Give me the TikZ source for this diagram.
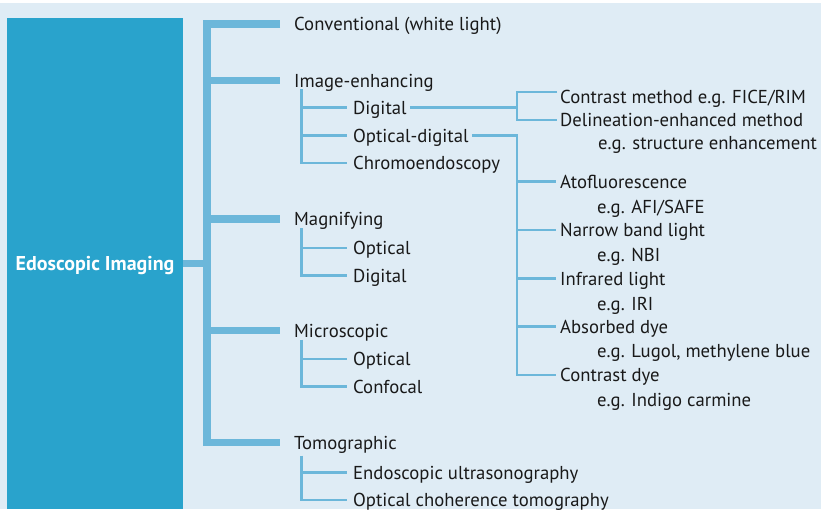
\documentclass[tikz,border=0pt]{standalone}
\usepackage{fontspec}
\setmainfont{PT Sans}
\definecolor{bgblue}{RGB}{223,236,245}
\definecolor{boxblue}{RGB}{41,163,204}
\definecolor{lineblue}{RGB}{108,183,218}
\definecolor{txt}{RGB}{25,25,25}
\begin{document}
\begin{tikzpicture}[x=1pt,y=-1pt,
  lbl/.style={anchor=west,inner sep=0pt,text height=13pt,text depth=0pt,
    font=\fontsize{18.7}{20}\selectfont,text=txt},
  thickln/.style={draw=lineblue,line width=7.5pt,line join=miter},
  thinln/.style={draw=lineblue,line width=2.8pt,line join=miter},
]
\useasboundingbox (0,0) rectangle (821,509);
\fill[white] (0,0) rectangle (821,509);
\fill[bgblue] (0,3) rectangle (821,509);

% root box
\node[fill=boxblue,minimum width=176pt,minimum height=491pt,inner sep=0pt,
  text height=13pt,text depth=0pt,text=white,
  font=\fontsize{20}{22}\selectfont\bfseries] (root) at (95,263.5) {Edoscopic Imaging};

% level 1
\node[lbl] (conv)  at (294,24)    {Conventional (white light)};
\node[lbl] (img)   at (294,80.5)  {Image-enhancing};
\node[lbl] (mag)   at (294,219)   {Magnifying};
\node[lbl] (micro) at (294,330.5) {Microscopic};
\node[lbl] (tomo)  at (294,442.5) {Tomographic};

% level 2
\node[lbl] (digital) at (353,107.7) {Digital};
\node[lbl] (optdig)  at (353,135.7) {Optical-digital};
\node[lbl] (chromo)  at (353,163)   {Chromoendoscopy};
\node[lbl] (mopt)    at (353,248)   {Optical};
\node[lbl] (mdig)    at (353,275.7) {Digital};
\node[lbl] (xopt)    at (353,359)   {Optical};
\node[lbl] (xconf)   at (353,386.5) {Confocal};
\node[lbl] (eus)     at (353,472.5) {Endoscopic ultrasonography};
\node[lbl] (oct)     at (353,500)   {Optical choherence tomography};

% level 3
\node[lbl] (contr)   at (560,97)    {Contrast method e.g. FICE/RIM};
\node[lbl] (delin)   at (560,120)   {Delineation-enhanced method};
\node[lbl] (egstr)   at (598,143)   {e.g. structure enhancement};
\node[lbl] (ato)     at (560,181.5) {Atofluorescence};
\node[lbl] (egafi)   at (597,206.5) {e.g. AFI/SAFE};
\node[lbl] (nbl)     at (560,230)   {Narrow band light};
\node[lbl] (egnbi)   at (597,255)   {e.g. NBI};
\node[lbl] (ir)      at (560,278.5) {Infrared light};
\node[lbl] (egiri)   at (597,303.5) {e.g. IRI};
\node[lbl] (abs)     at (560,326.5) {Absorbed dye};
\node[lbl] (eglug)   at (597,350.5) {e.g. Lugol, methylene blue};
\node[lbl] (cdye)    at (560,375)   {Contrast dye};
\node[lbl] (egind)   at (597,400)   {e.g. Indigo carmine};

% trunk
\coordinate (tx) at (207,0);
\draw[thickln] ([xshift=-14pt]conv.west) -| (tx |- tomo.west) -- ([xshift=-14pt]tomo.west);
\foreach \n in {img,mag,micro}
  \draw[thickln] (tx |- \n.west) -- ([xshift=-14pt]\n.west);
\draw[thickln] (root.east) -- (tx |- root.east);

% sub trees
\coordinate (s1) at ([xshift=7.5pt]img.west);
\draw[thinln] ([yshift=-8.5pt]s1) |- ([xshift=-6pt]chromo.west);
\foreach \n in {digital,optdig}
  \draw[thinln] (s1 |- \n.west) -- ([xshift=-6pt]\n.west);

\coordinate (s2) at ([xshift=7.5pt]mag.west);
\draw[thinln] ([yshift=-9pt]s2) |- ([xshift=-6pt]mdig.west);
\draw[thinln] (s2 |- mopt.west) -- ([xshift=-6pt]mopt.west);

\coordinate (s3) at ([xshift=7.5pt]micro.west);
\draw[thinln] ([yshift=-9pt]s3) |- ([xshift=-6pt]xconf.west);
\draw[thinln] (s3 |- xopt.west) -- ([xshift=-6pt]xopt.west);

\coordinate (s4) at ([xshift=7.5pt]tomo.west);
\draw[thinln] ([yshift=-13pt]s4) |- ([xshift=-6pt]oct.west);
\draw[thinln] (s4 |- eus.west) -- ([xshift=-6pt]eus.west);

% digital -> methods
\coordinate (c1) at (517,0);
\draw[thinln] ([xshift=3pt]digital.east) -- (c1 |- digital.east);
\draw[thinln] ([xshift=-3pt,yshift=5pt]contr.west) -| (c1 |- delin.west) -- ([xshift=-3pt]delin.west);

% optical-digital -> methods
\draw[thinln] ([xshift=3pt]optdig.east) -| (c1 |- cdye.west) -- ([xshift=-4pt]cdye.west);
\foreach \n in {ato,nbl,ir,abs}
  \draw[thinln] (c1 |- \n.west) -- ([xshift=-4pt]\n.west);
\end{tikzpicture}
\end{document}
